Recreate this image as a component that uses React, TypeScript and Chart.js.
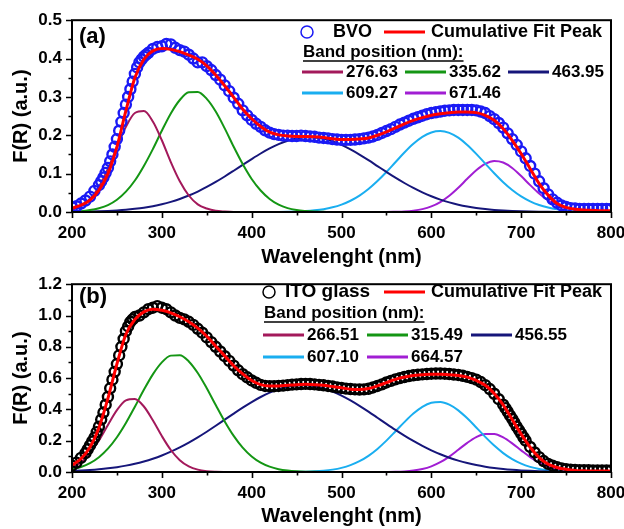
import React, { useEffect, useRef } from "react";
import { Chart, registerables } from "chart.js";

Chart.register(...registerables);

const FONT = '"Liberation Sans", Arial, Helvetica, sans-serif';
Chart.defaults.font.family = FONT;

function range(a: number, b: number, s: number): number[] {
  const r: number[] = [];
  for (let v = a; v <= b + 1e-9; v += s) r.push(Math.round(v));
  return r;
}

// wavelength grids (nm)
const WL_DATA = range(200, 800, 5);
const WL_FIT = range(200, 800, 10);

const X_MAJOR = [200, 300, 400, 500, 600, 700, 800];
const X_MINOR = [250, 350, 450, 550, 650, 750];

const PEAK_COLORS = ["#A3195B", "#149614", "#16167A", "#1AAEF0", "#A11ED3"];

// ---------------- panel (a) BVO ----------------
const A_DATA = [
  0.012, 0.015, 0.022, 0.030, 0.040, 0.055, 0.070, 0.090, 0.115, 0.150, 0.190, 0.235, 0.280, 0.320, 0.360, 0.390, 0.405, 0.415, 0.425, 0.430,
  0.432, 0.438, 0.437, 0.428, 0.422, 0.418, 0.410, 0.400, 0.390, 0.390, 0.380, 0.370, 0.357, 0.345, 0.330, 0.315, 0.298, 0.282, 0.265, 0.252,
  0.240, 0.230, 0.222, 0.213, 0.207, 0.203, 0.201, 0.199, 0.199, 0.198, 0.198, 0.199, 0.198, 0.197, 0.196, 0.194, 0.193, 0.192, 0.190, 0.189,
  0.188, 0.188, 0.188, 0.189, 0.190, 0.192, 0.194, 0.197, 0.201, 0.206, 0.211, 0.216, 0.222, 0.228, 0.233, 0.238, 0.243, 0.247, 0.251, 0.255,
  0.258, 0.260, 0.262, 0.264, 0.265, 0.266, 0.266, 0.266, 0.266, 0.266, 0.265, 0.262, 0.258, 0.250, 0.242, 0.232, 0.220, 0.205, 0.190, 0.175,
  0.158, 0.140, 0.120, 0.100, 0.080, 0.062, 0.046, 0.033, 0.024, 0.017, 0.013, 0.010, 0.009, 0.008, 0.008, 0.008, 0.008, 0.008, 0.008, 0.008,
  0.008,
];
// extra measured points on the steep rising edge
const A_EXTRA_WL = [232.5, 237.5, 242.5, 247.5, 252.5, 257.5, 262.5, 267.5, 272.5, 277.5, 282.5];
const A_EXTRA = [0.080, 0.102, 0.132, 0.170, 0.212, 0.258, 0.300, 0.340, 0.377, 0.398, 0.410];
const A_FIT = [
  0.010, 0.018, 0.031, 0.057, 0.100, 0.170, 0.264, 0.350, 0.398, 0.420,
  0.426, 0.424, 0.418, 0.409, 0.398, 0.381, 0.357, 0.329, 0.299, 0.268,
  0.243, 0.223, 0.208, 0.201, 0.198, 0.197, 0.197, 0.196, 0.194, 0.191,
  0.189, 0.189, 0.190, 0.193, 0.200, 0.209, 0.219, 0.230, 0.239, 0.246,
  0.252, 0.256, 0.259, 0.261, 0.261, 0.259, 0.252, 0.239, 0.217, 0.187,
  0.152, 0.113, 0.074, 0.044, 0.022, 0.012, 0.007, 0.005, 0.004, 0.003,
  0.003,
];
const A_P1 = [
  0.006, 0.016, 0.034, 0.066, 0.113, 0.169, 0.222, 0.258, 0.263, 0.236,
  0.187, 0.130, 0.080, 0.043, 0.020, 0.009, 0.003, 0.001, 0, 0,
  0, 0, 0, 0, 0, 0, 0, 0, 0, 0,
  0, 0, 0, 0, 0, 0, 0, 0, 0, 0,
  0, 0, 0, 0, 0, 0, 0, 0, 0, 0,
  0, 0, 0, 0, 0, 0, 0, 0, 0, 0,
  0,
];
const A_P2 = [
  0.001, 0.002, 0.005, 0.010, 0.018, 0.032, 0.053, 0.082, 0.120, 0.164,
  0.212, 0.257, 0.292, 0.312, 0.313, 0.295, 0.262, 0.218, 0.170, 0.125,
  0.086, 0.056, 0.034, 0.019, 0.010, 0.005, 0.0025, 0.001, 0.0005, 0,
  0, 0, 0, 0, 0, 0, 0, 0, 0, 0,
  0, 0, 0, 0, 0, 0, 0, 0, 0, 0,
  0, 0, 0, 0, 0, 0, 0, 0, 0, 0,
  0,
];
const A_P3 = [
  0.0005, 0.0008, 0.0013, 0.0019, 0.0028, 0.0041, 0.0058, 0.0082, 0.0112, 0.0152,
  0.0202, 0.0264, 0.0339, 0.0429, 0.0533, 0.0652, 0.0783, 0.0926, 0.1076, 0.1229,
  0.138, 0.1525, 0.1657, 0.1769, 0.1858, 0.1918, 0.1947, 0.1944, 0.1908, 0.1842,
  0.1748, 0.1631, 0.1497, 0.1351, 0.1198, 0.1045, 0.0896, 0.0756, 0.0627, 0.0511,
  0.041, 0.0323, 0.025, 0.0191, 0.0143, 0.0105, 0.0076, 0.0054, 0.0038, 0.0026,
  0.0018, 0.0012, 0.0008, 0.0005, 0.0003, 0.0002, 0.0001, 0, 0, 0,
  0,
];
const A_P4 = [
  0, 0, 0, 0, 0, 0, 0, 0, 0, 0,
  0, 0, 0, 0, 0, 0, 0, 0, 0, 0,
  0, 0, 0, 0.0003, 0.0007, 0.0013, 0.0024, 0.0044, 0.0074, 0.0122,
  0.0193, 0.0293, 0.0428, 0.06, 0.0808, 0.1044, 0.1298, 0.155, 0.1777, 0.1958,
  0.2074, 0.211, 0.2062, 0.1937, 0.1747, 0.1515, 0.1262, 0.101, 0.0776, 0.0574,
  0.0407, 0.0278, 0.0182, 0.0115, 0.0069, 0.004, 0.0022, 0.0012, 0.0006, 0.0003,
  0.0002,
];
const A_P5 = [
  0, 0, 0, 0, 0, 0, 0, 0, 0, 0,
  0, 0, 0, 0, 0, 0, 0, 0, 0, 0,
  0, 0, 0, 0, 0, 0, 0, 0, 0, 0,
  0, 0, 0, 0, 0, 0, 0.0006, 0.0015, 0.0036, 0.0075,
  0.0146, 0.0259, 0.0422, 0.0631, 0.0866, 0.109, 0.1256, 0.1329, 0.1289, 0.1147,
  0.0936, 0.0701, 0.0481, 0.0303, 0.0175, 0.0093, 0.0045, 0.002, 0.0008, 0.0003,
  0.0001,
];
const A_BANDS = ["276.63", "335.62", "463.95", "609.27", "671.46"];
const A_Y_MINOR = [0.05, 0.15, 0.25, 0.35, 0.45];

// ---------------- panel (b) ITO glass ----------------
const B_DATA = [
  0.040, 0.060, 0.090, 0.120, 0.170, 0.220, 0.290, 0.380, 0.480, 0.590, 0.690, 0.800, 0.900, 0.960, 0.990, 1.000, 1.020, 1.040, 1.050, 1.060,
  1.050, 1.040, 1.020, 1.000, 0.985, 0.975, 0.960, 0.940, 0.915, 0.890, 0.860, 0.830, 0.800, 0.770, 0.740, 0.710, 0.680, 0.650, 0.625, 0.605,
  0.585, 0.570, 0.557, 0.550, 0.548, 0.548, 0.550, 0.552, 0.555, 0.558, 0.560, 0.562, 0.563, 0.562, 0.560, 0.557, 0.554, 0.550, 0.546, 0.541,
  0.537, 0.533, 0.530, 0.528, 0.527, 0.528, 0.532, 0.540, 0.550, 0.560, 0.572, 0.582, 0.592, 0.600, 0.607, 0.613, 0.618, 0.621, 0.624, 0.626,
  0.628, 0.629, 0.629, 0.628, 0.626, 0.623, 0.620, 0.615, 0.608, 0.600, 0.590, 0.575, 0.555, 0.530, 0.500, 0.465, 0.430, 0.385, 0.340, 0.290,
  0.245, 0.200, 0.160, 0.125, 0.095, 0.070, 0.052, 0.040, 0.030, 0.023, 0.018, 0.015, 0.013, 0.012, 0.011, 0.011, 0.010, 0.010, 0.010, 0.010,
  0.010,
];
const B_EXTRA_WL = [217.5, 222.5, 227.5, 232.5, 237.5, 242.5, 247.5, 252.5, 257.5, 262.5, 267.5, 682.5, 687.5, 692.5, 697.5, 702.5];
const B_EXTRA = [0.145, 0.195, 0.255, 0.335, 0.430, 0.535, 0.640, 0.745, 0.850, 0.930, 0.975, 0.408, 0.362, 0.315, 0.268, 0.222];
const B_FIT = [
  0.044, 0.085, 0.158, 0.283, 0.470, 0.690, 0.880, 0.975, 1.023, 1.040,
  1.033, 1.017, 0.992, 0.960, 0.919, 0.867, 0.804, 0.742, 0.679, 0.627,
  0.585, 0.558, 0.550, 0.550, 0.554, 0.558, 0.560, 0.558, 0.554, 0.546,
  0.538, 0.529, 0.527, 0.533, 0.550, 0.571, 0.592, 0.606, 0.617, 0.621,
  0.625, 0.625, 0.621, 0.617, 0.606, 0.585, 0.554, 0.502, 0.429, 0.335,
  0.242, 0.158, 0.092, 0.050, 0.029, 0.017, 0.010, 0.008, 0.006, 0.006,
  0.006,
];
const B_P1 = [
  0.028, 0.0614, 0.1184, 0.201, 0.3, 0.395, 0.4575, 0.4663, 0.4184, 0.3306,
  0.2298, 0.1405, 0.0757, 0.0359, 0.015, 0.0055, 0.0018, 0.0005, 0.0001, 0,
  0, 0, 0, 0, 0, 0, 0, 0, 0, 0,
  0, 0, 0, 0, 0, 0, 0, 0, 0, 0,
  0, 0, 0, 0, 0, 0, 0, 0, 0, 0,
  0, 0, 0, 0, 0, 0, 0, 0, 0, 0,
  0,
];
const B_P2 = [
  0.0171, 0.032, 0.0566, 0.0945, 0.149, 0.222, 0.313, 0.417, 0.525, 0.624,
  0.7006, 0.7436, 0.7457, 0.7066, 0.6327, 0.5353, 0.4279, 0.3232, 0.2307, 0.1556,
  0.0991, 0.0597, 0.034, 0.0182, 0.0093, 0.0044, 0.002, 0.0009, 0.0004, 0,
  0, 0, 0, 0, 0, 0, 0, 0, 0, 0,
  0, 0, 0, 0, 0, 0, 0, 0, 0, 0,
  0, 0, 0, 0, 0, 0, 0, 0, 0, 0,
  0,
];
const B_P3 = [
  0.0065, 0.0091, 0.0126, 0.0173, 0.0233, 0.031, 0.0407, 0.0527, 0.0674, 0.085,
  0.1057, 0.1298, 0.1572, 0.1878, 0.2214, 0.2574, 0.2953, 0.3343, 0.3732, 0.4112,
  0.4469, 0.4792, 0.5069, 0.5291, 0.5447, 0.5533, 0.5546, 0.5483, 0.5348, 0.5146,
  0.4886, 0.4577, 0.4229, 0.3856, 0.3468, 0.3077, 0.2694, 0.2327, 0.1982, 0.1667,
  0.1382, 0.1131, 0.0913, 0.0727, 0.0571, 0.0443, 0.0339, 0.0255, 0.019, 0.014,
  0.0101, 0.0072, 0.0051, 0.0035, 0.0024, 0.0016, 0.0011, 0.0007, 0.0005, 0.0003,
  0.0002,
];
const B_P4 = [
  0, 0, 0, 0, 0, 0, 0, 0, 0, 0,
  0, 0, 0, 0, 0, 0, 0, 0, 0, 0,
  0, 0, 0, 0, 0.0005, 0.001, 0.0021, 0.0043, 0.0083, 0.0152,
  0.0264, 0.0437, 0.0689, 0.1033, 0.1474, 0.2003, 0.2591, 0.3189, 0.3737, 0.4168,
  0.4425, 0.4471, 0.43, 0.3936, 0.3429, 0.2844, 0.2245, 0.1687, 0.1206, 0.0821,
  0.0532, 0.0328, 0.0193, 0.0108, 0.0057, 0.0029, 0.0014, 0.0006, 0.0003, 0.0001,
  0,
];
const B_P5 = [
  0, 0, 0, 0, 0, 0, 0, 0, 0, 0,
  0, 0, 0, 0, 0, 0, 0, 0, 0, 0,
  0, 0, 0, 0, 0, 0, 0, 0, 0, 0,
  0, 0, 0, 0, 0, 0.0006, 0.0016, 0.004, 0.0092, 0.0191,
  0.0362, 0.0626, 0.0987, 0.142, 0.1863, 0.2231, 0.2436, 0.2427, 0.2206, 0.1829,
  0.1384, 0.0955, 0.0601, 0.0345, 0.0181, 0.0086, 0.0038, 0.0015, 0.0005, 0.0002,
  0.0001,
];
const B_BANDS = ["266.51", "315.49", "456.55", "607.10", "664.57"];
const B_Y_MINOR = [0.1, 0.3, 0.5, 0.7, 0.9, 1.1];

// ---------------- layout ----------------
type PanelCfg = {
  tag: string;
  sample: string;
  dataColor: string;
  data: number[];
  extraWl: number[];
  extra: number[];
  fit: number[];
  peaks: number[][];
  bands: string[];
  yMax: number;
  yStep: number;
  yMinor: number[];
  top: number;
  height: number;
  padTop: number;
  xAxisH: number;
  xTitlePad: number;
  lg: {
    circleX: number;
    sampleX: number;
    sampleFont: number;
    rows: number[];
    bandX: number;
    cols: number[];
    tagY: number;
  };
};

const PANELS: PanelCfg[] = [
  {
    tag: "(a)",
    sample: "BVO",
    dataColor: "#1A1AF5",
    data: A_DATA,
    extraWl: A_EXTRA_WL,
    extra: A_EXTRA,
    fit: A_FIT,
    peaks: [A_P1, A_P2, A_P3, A_P4, A_P5],
    bands: A_BANDS,
    yMax: 0.5,
    yStep: 0.1,
    yMinor: A_Y_MINOR,
    top: 0,
    height: 272,
    padTop: 19,
    xAxisH: 60,
    xTitlePad: 3,
    lg: { circleX: 307, sampleX: 333, sampleFont: 18, rows: [32, 52, 72, 93], bandX: 303, cols: [302, 405, 508], tagY: 37 },
  },
  {
    tag: "(b)",
    sample: "ITO glass",
    dataColor: "#000000",
    data: B_DATA,
    extraWl: B_EXTRA_WL,
    extra: B_EXTRA,
    fit: B_FIT,
    peaks: [B_P1, B_P2, B_P3, B_P4, B_P5],
    bands: B_BANDS,
    yMax: 1.2,
    yStep: 0.2,
    yMinor: B_Y_MINOR,
    top: 264,
    height: 265,
    padTop: 16,
    xAxisH: 57,
    xTitlePad: 1,
    lg: { circleX: 269, sampleX: 285, sampleFont: 19, rows: [28, 49, 71, 93], bandX: 264, cols: [263, 367, 471], tagY: 33 },
  },
];

function Panel({ cfg }: { cfg: PanelCfg }) {
  const ref = useRef<HTMLCanvasElement>(null);
  useEffect(() => {
    const canvas = ref.current;
    if (!canvas) return;

    const decor = {
      id: "decor",
      afterDraw(chart: any) {
        const { ctx, chartArea: a, scales } = chart;
        const xs = scales.x;
        const ys = scales.y;
        ctx.save();
        // frame
        ctx.strokeStyle = "#000";
        ctx.lineWidth = 2;
        ctx.strokeRect(a.left, a.top, a.right - a.left, a.bottom - a.top);
        // ticks
        ctx.lineWidth = 1.6;
        ctx.beginPath();
        X_MAJOR.forEach((v) => {
          const p = Math.round(xs.getPixelForValue(v)) + 0.5;
          ctx.moveTo(p, a.bottom);
          ctx.lineTo(p, a.bottom + 6);
        });
        X_MINOR.forEach((v) => {
          const p = Math.round(xs.getPixelForValue(v)) + 0.5;
          ctx.moveTo(p, a.bottom);
          ctx.lineTo(p, a.bottom + 3.5);
        });
        ys.ticks.forEach((t: any) => {
          const p = Math.round(ys.getPixelForValue(t.value)) + 0.5;
          ctx.moveTo(a.left, p);
          ctx.lineTo(a.left - 6, p);
        });
        cfg.yMinor.forEach((v) => {
          const p = Math.round(ys.getPixelForValue(v)) + 0.5;
          ctx.moveTo(a.left, p);
          ctx.lineTo(a.left - 3.5, p);
        });
        ctx.stroke();

        // panel tag
        const L = cfg.lg;
        ctx.fillStyle = "#000";
        ctx.textBaseline = "middle";
        ctx.textAlign = "left";
        ctx.font = `bold 22px ${FONT}`;
        ctx.fillText(cfg.tag, 79, L.tagY);

        // legend row 0
        ctx.beginPath();
        ctx.arc(L.circleX, L.rows[0], 6, 0, Math.PI * 2);
        ctx.strokeStyle = cfg.dataColor;
        ctx.lineWidth = 1.5;
        ctx.stroke();
        ctx.font = `bold ${L.sampleFont}px ${FONT}`;
        ctx.fillText(cfg.sample, L.sampleX, L.rows[0]);
        const seg = (x0: number, x1: number, y: number, c: string, w: number) => {
          ctx.beginPath();
          ctx.strokeStyle = c;
          ctx.lineWidth = w;
          ctx.moveTo(x0, y);
          ctx.lineTo(x1, y);
          ctx.stroke();
        };
        seg(384, 425, L.rows[0], "#FF0000", 3);
        ctx.font = `bold 18px ${FONT}`;
        ctx.fillText("Cumulative Fit Peak", 431, L.rows[0]);

        // band header
        ctx.font = `bold 17px ${FONT}`;
        const hdr = "Band position (nm):";
        ctx.fillText(hdr, L.bandX, L.rows[1]);
        const w = ctx.measureText(hdr).width;
        seg(L.bandX, L.bandX + w, L.rows[1] + 9, "#000", 1.5);

        // band entries
        cfg.bands.forEach((b, k) => {
          const row = k < 3 ? 2 : 3;
          const col = k % 3;
          const x0 = L.cols[col];
          const y = L.rows[row];
          seg(x0, x0 + 41, y, PEAK_COLORS[k], 3);
          ctx.fillStyle = "#000";
          ctx.fillText(b, x0 + 44, y);
        });
        ctx.restore();
      },
    };

    const lineDs = (vals: number[], color: string, width: number, order: number) => ({
      type: "line" as const,
      data: WL_FIT.map((x, i) => ({ x, y: vals[i] })),
      borderColor: color,
      backgroundColor: color,
      borderWidth: width,
      pointRadius: 0,
      cubicInterpolationMode: "monotone" as const,
      fill: false,
      order,
    });

    const points = [
      ...WL_DATA.map((x, i) => ({ x, y: cfg.data[i] })),
      ...cfg.extraWl.map((x, i) => ({ x, y: cfg.extra[i] })),
    ];

    const chart = new Chart(canvas, {
      type: "line",
      data: {
        datasets: [
          lineDs(cfg.fit, "#FF0000", 3, 0),
          {
            type: "scatter",
            data: points,
            borderColor: cfg.dataColor,
            backgroundColor: "rgba(0,0,0,0)",
            pointBorderColor: cfg.dataColor,
            pointBackgroundColor: "rgba(0,0,0,0)",
            pointRadius: 5,
            borderWidth: 2.4,
            pointBorderWidth: 2.4,
            showLine: false,
            clip: 0,
            order: 1,
          } as any,
          ...cfg.peaks.map((p, k) => lineDs(p, PEAK_COLORS[k], 2, 2)),
        ],
      },
      options: {
        animation: false,
        responsive: false,
        devicePixelRatio: 1,
        events: [],
        layout: { padding: { top: cfg.padTop, right: 13, left: 0, bottom: 0 } },
        plugins: { legend: { display: false }, tooltip: { enabled: false } },
        scales: {
          x: {
            type: "linear",
            min: 200,
            max: 800,
            ticks: {
              stepSize: 100,
              maxRotation: 0,
              padding: 11,
              color: "#000",
              font: { size: 17, weight: "bold", family: FONT },
            },
            grid: { display: false, drawTicks: false, tickLength: 0 },
            border: { display: false },
            title: {
              display: true,
              text: "Wavelenght (nm)",
              color: "#000",
              font: { size: 20, weight: "bold", family: FONT },
              padding: { top: 0, bottom: cfg.xTitlePad },
            },
            afterFit: (s: any) => {
              s.height = cfg.xAxisH;
              s.paddingLeft = 0;
              s.paddingRight = 0;
            },
          },
          y: {
            type: "linear",
            min: 0,
            max: cfg.yMax,
            ticks: {
              stepSize: cfg.yStep,
              padding: 10,
              color: "#000",
              font: { size: 17, weight: "bold", family: FONT },
              callback: (v: any) => Number(v).toFixed(1),
            },
            grid: { display: false, drawTicks: false, tickLength: 0 },
            border: { display: false },
            title: {
              display: true,
              text: "F(R) (a.u.)",
              color: "#000",
              font: { size: 20, weight: "bold", family: FONT },
              padding: { top: 9, bottom: 0 },
            },
            afterFit: (s: any) => {
              s.width = 72;
            },
          },
        },
      } as any,
      plugins: [decor],
    });
    return () => chart.destroy();
  }, [cfg]);

  return (
    <canvas
      ref={ref}
      width={624}
      height={cfg.height}
      style={{ position: "absolute", left: 0, top: cfg.top, width: 624, height: cfg.height }}
    />
  );
}

export default function App() {
  return (
    <div style={{ position: "absolute", left: 0, top: 0, width: 624, height: 529, background: "#fff" }}>
      {PANELS.map((p) => (
        <Panel key={p.tag} cfg={p} />
      ))}
    </div>
  );
}
